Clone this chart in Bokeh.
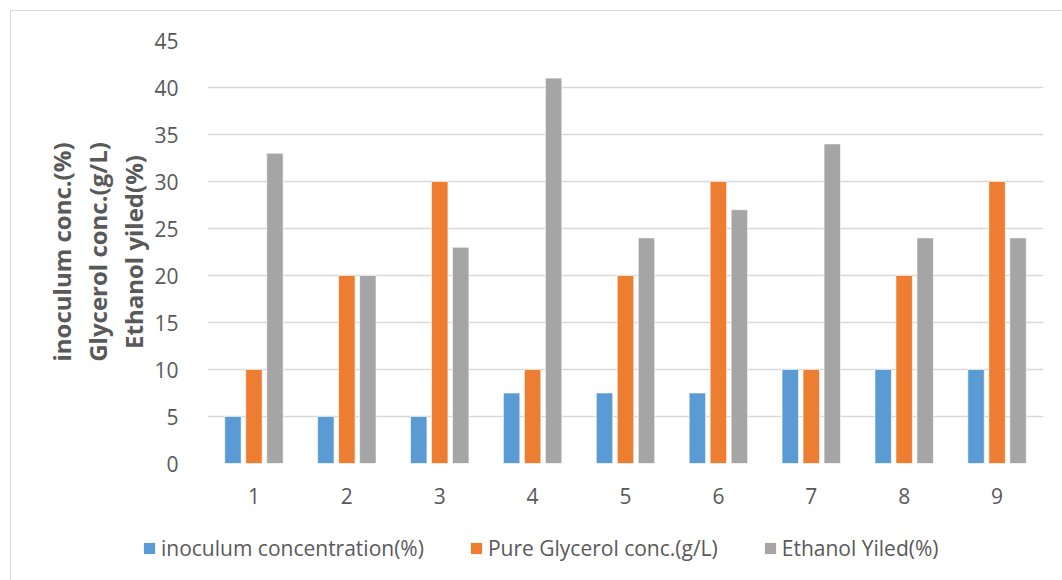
from bokeh.plotting import figure
from bokeh.layouts import column
from bokeh.models import ColumnDataSource, Legend, LegendItem, FixedTicker, LinearAxis, Range1d
from bokeh.transform import dodge
from bokeh.embed import file_html
from bokeh.resources import INLINE

samples = [1, 2, 3, 4, 5, 6, 7, 8, 9]
inoculum = [5, 5, 5, 7.5, 7.5, 7.5, 10, 10, 10]
glycerol = [10, 20, 30, 10, 20, 30, 10, 20, 30]
ethanol = [33, 20, 23, 41, 24, 27, 34, 24, 24]
series_names = ["inoculum concentration(%)", "Pure Glycerol conc.(g/L)", "Ethanol Yiled(%)"]
title_lines = ["inoculum conc.(%)", "Glycerol conc.(g/L)", "Ethanol yiled(%)"]
y_ticks = [0, 5, 10, 15, 20, 25, 30, 35, 40, 45]

colors = ["#5B9BD5", "#ED7D31", "#A5A5A5"]
FONT = "Open Sans"
TXT = "#595959"

src = ColumnDataSource(dict(x=samples, inoc=inoculum, gly=glycerol, eth=ethanol))
bar_cols = ["inoc", "gly", "eth"]

# the whole chart sits 11px in from the page's top-left, behind a light border
p = figure(width=1051, height=509, output_backend="svg", toolbar_location=None,
           x_range=(0.5, 9.5), y_range=(0, 45),
           min_border_left=196, min_border_right=19, min_border_top=29, min_border_bottom=57)
p.frame_align = False
p.outline_line_color = None
p.background_fill_color = "white"
p.border_fill_color = "white"

w = 0.177
off = 0.226
for col, c, o in zip(bar_cols, colors, [-off, 0, off]):
    p.vbar(x=dodge("x", o), top=col, width=w, source=src, fill_color=c,
           line_color="white", line_alpha=0.6, line_width=1)

p.xaxis.ticker = FixedTicker(ticks=samples)
p.yaxis.ticker = FixedTicker(ticks=y_ticks)
for ax in (p.xaxis, p.yaxis):
    ax.axis_line_color = None
    ax.major_tick_line_color = None
    ax.minor_tick_line_color = None
    ax.major_label_text_font = FONT
    ax.major_label_text_color = TXT
    ax.major_label_text_font_size = "21px"
p.xaxis.major_label_standoff = 18
p.yaxis.major_label_standoff = 23

p.xgrid.grid_line_color = None
p.ygrid.grid_line_color = "#d9d9d9"
p.ygrid.grid_line_width = 1.5

# axis title as three stacked lines (extra axes carrying only a label)
for i, txt in enumerate(reversed(title_lines)):
    ax = LinearAxis(ticker=FixedTicker(ticks=[]), axis_label=txt,
                    axis_line_color=None, major_tick_line_color=None,
                    minor_tick_line_color=None, major_label_text_font_size="0px",
                    axis_label_standoff=0 if i else 2,
                    axis_label_text_font=FONT, axis_label_text_font_style="bold",
                    axis_label_text_font_size="24px", axis_label_text_color=TXT)
    p.add_layout(ax, "left")

# legend strip below the chart (its own frame spans the full width)
lg = figure(width=1051, height=60, output_backend="svg", toolbar_location=None,
            x_axis_type=None, y_axis_type=None,
            x_range=Range1d(-20, -19), y_range=Range1d(-20, -19),
            min_border_left=0, min_border_right=0, min_border_top=0, min_border_bottom=0)
lg.frame_align = False
lg.outline_line_color = None
lg.xgrid.grid_line_color = None
lg.ygrid.grid_line_color = None
items = []
for name, col, c in zip(series_names, bar_cols, colors):
    # same data, drawn outside the strip's visible range: only its legend key shows
    r = lg.vbar(x="x", top=col, width=0.2, source=src, fill_color=c, line_color=None)
    items.append(LegendItem(label=name, renderers=[r]))
legend = Legend(items=items, orientation="horizontal", location=(131, 18),
                glyph_width=14, glyph_height=14, label_standoff=5, spacing=45,
                padding=0, margin=0, border_line_color=None, background_fill_alpha=0,
                label_text_font=FONT, label_text_font_size="21px", label_text_color=TXT)
lg.add_layout(legend, "center")

layout = column(p, lg, spacing=0)
layout.styles = {"margin-left": "10px", "margin-top": "10px",
                 "border-left": "1px solid #d9d9d9", "border-top": "1px solid #d9d9d9"}
open("out.html", "w").write(file_html(layout, INLINE))
